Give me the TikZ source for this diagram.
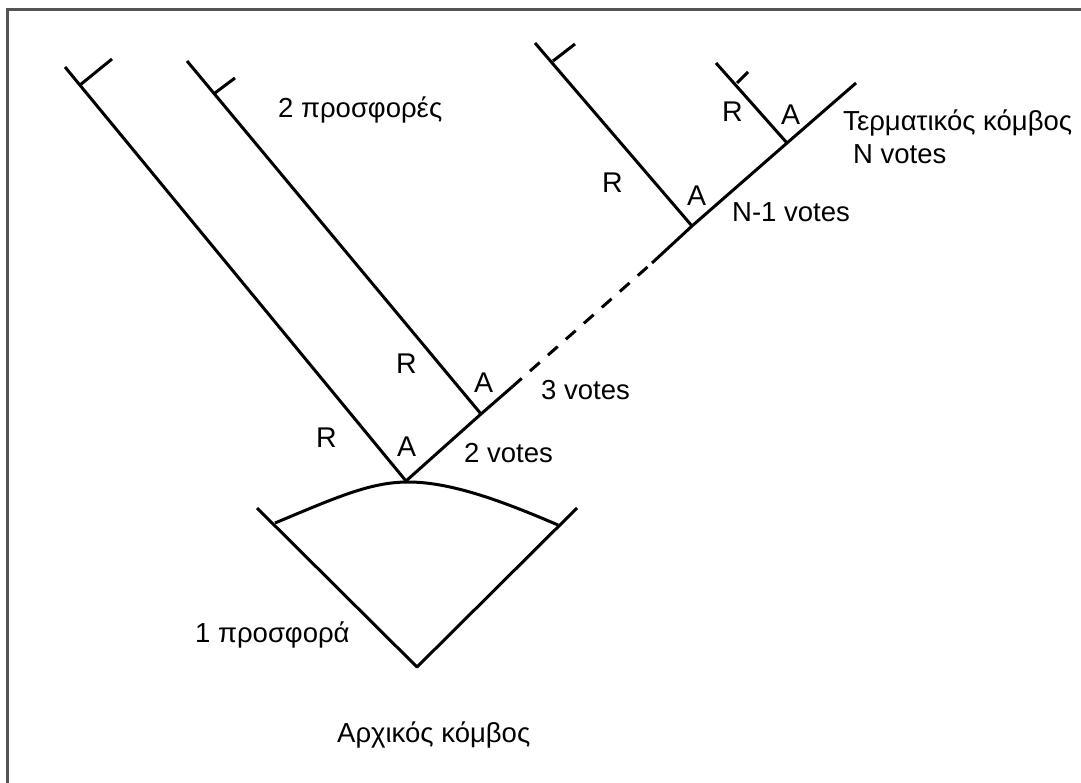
\documentclass[tikz,border=0pt]{standalone}
\usepackage{fontspec}
\setmainfont{Liberation Sans}
\begin{document}
\begin{tikzpicture}[x=1pt,y=-1pt,
  ln/.style={line width=3pt,black},
  fr/.style={line width=2.2pt,color={rgb,255:red,85;green,85;blue,85}},
  lbl/.style={anchor=base west,inner sep=0pt,font=\fontsize{27.5}{33}\selectfont},
  ra/.style={anchor=base west,inner sep=0pt,font=\fontsize{28.5}{34}\selectfont}]
\useasboundingbox (0,0) rectangle (1081,783);
\fill[white] (0,0) rectangle (1081,783);
% frame
\coordinate (fTL) at (7.5,9.5);
\coordinate (fTR) at (1081,9.5);
\coordinate (fBL) at (7.5,783);
\draw[fr] (fTR) -- (fTL) -- (fBL);
% start node (V with arch)
\coordinate (vL) at (257,508);
\coordinate (vB) at (417,667);
\coordinate (vR) at (577,508);
\coordinate (aL) at (275,523);
\coordinate (aT) at (408,482);
\coordinate (aR) at (558,525);
\draw[ln,line join=round] (vL) -- (vB) -- (vR);
\draw[ln] (aL) .. controls (335,498) and (370,482) .. (aT) .. controls (450,482) and (500,500) .. (aR);
% main diagonal
\coordinate (j1) at (406,481);
\coordinate (j2) at (481,414);
\coordinate (d1) at (512,387);
\coordinate (d2) at (652,263);
\coordinate (j3) at (692,226);
\coordinate (j4) at (787,143);
\coordinate (mT) at (856,83);
\draw[ln] (j1) -- (j2) -- (d1);
\draw[ln,dash pattern=on 13pt off 11pt] (d1) -- (d2);
\draw[ln] (d2) -- (j3) -- (j4) -- (mT);
% branch 1
\coordinate (b1s) at (65,67);
\coordinate (b1t) at (80,85);
\coordinate (b1e) at (112,59);
\draw[ln] (b1s) -- (j1);
\draw[ln] (b1t) -- (b1e);
% branch 2
\coordinate (b2s) at (187,61);
\coordinate (b2t) at (215,93);
\coordinate (b2e) at (235,78);
\draw[ln] (b2s) -- (j2);
\draw[ln] (b2t) -- (b2e);
% branch 3
\coordinate (b3s) at (535,43);
\coordinate (b3t) at (553,61);
\coordinate (b3e) at (575,44);
\draw[ln] (b3s) -- (j3);
\draw[ln] (b3t) -- (b3e);
% branch 4
\coordinate (b4s) at (716,63);
\coordinate (b4t) at (737,83);
\coordinate (b4e) at (748,72);
\draw[ln] (b4s) -- (j4);
\draw[ln] (b4t) -- (b4e);
% labels
\node[ra] (r1) at (316,447) {R};
\node[ra] (a1) at (397,456) {A};
\node[lbl] (v2) at (464,462) {2 votes};
\node[ra] (r2) at (396,373) {R};
\node[ra] (a2) at (474,392) {A};
\node[lbl] (v3) at (541,399) {3 votes};
\node[lbl] (p2) at (278,118) {2 προσφορές};
\node[ra] (r3) at (602,193) {R};
\node[ra] (a3) at (687,206) {A};
\node[lbl] (vn1) at (732,222) {N-1 votes};
\node[ra] (r4) at (722,122) {R};
\node[ra] (a4) at (781,125) {A};
\node[lbl] (term) at (843,131) {Τερματικός κόμβος};
\node[lbl] (vn) at (853,164) {N votes};
\node[lbl] (p1) at (195,642) {1 προσφορά};
\node[lbl] (start) at (337,742) {Αρχικός κόμβος};
\end{tikzpicture}
\end{document}
